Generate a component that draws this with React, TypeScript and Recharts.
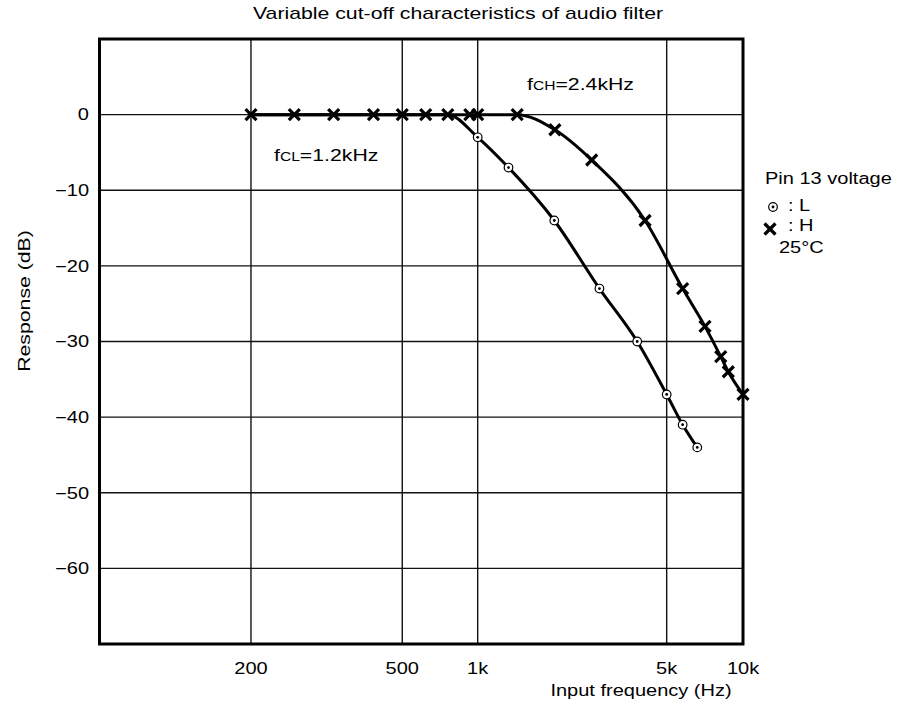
import React from "react";
import {
  LineChart,
  Line,
  XAxis,
  YAxis,
  CartesianGrid,
  ReferenceArea,
  Customized,
} from "recharts";

// frequency axis (Hz) and response axis (dB)
const FREQ_TICKS = [200, 500, 1000, 5000, 10000];
const FREQ_LABELS = ["200", "500", "1k", "5k", "10k"];
const DB_TICKS = [0, -10, -20, -30, -40, -50, -60];

// pin 13 voltage = H (cross markers), fcH = 2.4kHz
const H_FREQ = [200, 260, 330, 420, 500, 620, 760, 930, 1000, 1400, 1930, 2640, 4160, 5780, 7080, 8170, 8750, 10000];
const H_DB = [0, 0, 0, 0, 0, 0, 0, 0, 0, 0, -2, -6, -14, -23, -28, -32, -34, -37];

// pin 13 voltage = L (ring markers), fcL = 1.2kHz
const L_FREQ = [200, 260, 330, 420, 500, 620, 760, 1000, 1300, 1920, 2820, 3890, 5000, 5780, 6600];
const L_DB = [0, 0, 0, 0, 0, 0, 0, -3, -7, -14, -23, -30, -37, -41, -44];

const hData = H_FREQ.map((f, i) => ({ f, db: H_DB[i] }));
const lData = L_FREQ.map((f, i) => ({ f, db: L_DB[i] }));

const FONT = "'Liberation Sans', Arial, Helvetica, sans-serif";
// the printed lettering is noticeably wider than Arial
const STRETCH = 1.25;

// The printed frequency axis is not a clean log axis: each decade piece has its
// own length. Log-interpolate between the printed gridlines.
const AXIS_STOPS = [100, 200, 500, 1000, 5000, 10000];
const AXIS_FRAC = [0, 0.2354, 0.4705, 0.5877, 0.8814, 1];

function pieceLogScale(): any {
  let dom = [AXIS_STOPS[0], AXIS_STOPS[AXIS_STOPS.length - 1]];
  let rng = [0, 1];
  const scale: any = (v: number) => {
    let i = 0;
    while (i < AXIS_STOPS.length - 2 && v > AXIS_STOPS[i + 1]) i++;
    const a = Math.log10(AXIS_STOPS[i]);
    const b = Math.log10(AXIS_STOPS[i + 1]);
    const t = AXIS_FRAC[i] + ((AXIS_FRAC[i + 1] - AXIS_FRAC[i]) * (Math.log10(v) - a)) / (b - a);
    return rng[0] + (rng[1] - rng[0]) * t;
  };
  scale.domain = (d?: number[]) => {
    if (d === undefined) return dom;
    dom = [...d];
    return scale;
  };
  scale.range = (r?: number[]) => {
    if (r === undefined) return rng;
    rng = [...r];
    return scale;
  };
  scale.copy = () => pieceLogScale().domain(dom).range(rng);
  scale.ticks = () => FREQ_TICKS;
  return scale;
}

function Txt({ x, y, anchor = "start", size = 16, rotate = 0, children }: any) {
  return (
    <text
      transform={`translate(${x},${y}) rotate(${rotate}) scale(${STRETCH},1)`}
      textAnchor={anchor}
      dy="0.36em"
      fontSize={size}
      fontFamily={FONT}
      fill="#000"
    >
      {children}
    </text>
  );
}

function Ring({ cx, cy }: { cx: number; cy: number }) {
  return (
    <g>
      <circle cx={cx} cy={cy} r={4.3} fill="#fff" stroke="#000" strokeWidth={1.2} />
      <circle cx={cx} cy={cy} r={1.4} fill="#000" />
    </g>
  );
}

function Cross({ cx, cy }: { cx: number; cy: number }) {
  return (
    <g stroke="#000" strokeWidth={3.2}>
      <line x1={cx - 5.5} y1={cy - 5.5} x2={cx + 5.5} y2={cy + 5.5} />
      <line x1={cx - 5.5} y1={cy + 5.5} x2={cx + 5.5} y2={cy - 5.5} />
    </g>
  );
}

function XTick({ x, payload }: any) {
  const i = FREQ_TICKS.indexOf(payload.value);
  return <Txt x={x} y={668} anchor="middle">{FREQ_LABELS[i]}</Txt>;
}

function YTick({ y, payload }: any) {
  const v = payload.value;
  return (
    <Txt x={89} y={y} anchor="end">
      {v < 0 ? `\u2212${-v}` : `${v}`}
    </Txt>
  );
}

function Notes() {
  return (
    <g>
      <Txt x={458} y={13} anchor="middle" size={17}>
        Variable cut-off characteristics of audio filter
      </Txt>
      <Txt x={24} y={301} anchor="middle" rotate={-90} size={17}>
        Response (dB)
      </Txt>
      <Txt x={641} y={690} anchor="middle">Input frequency (Hz)</Txt>
      <Txt x={527} y={84} size={17}>
        f<tspan fontSize={12.5}>CH</tspan>=2.4kHz
      </Txt>
      <Txt x={274} y={155} size={17}>
        f<tspan fontSize={12.5}>CL</tspan>=1.2kHz
      </Txt>
      <Txt x={765} y={178}>Pin 13 voltage</Txt>
      <Ring cx={773} cy={207} />
      <Txt x={788} y={205}>: L</Txt>
      <Cross cx={770} cy={229} />
      <Txt x={788} y={225}>: H</Txt>
      <Txt x={779} y={247}>25°C</Txt>
    </g>
  );
}

export default function App() {
  return (
    <div style={{ position: "absolute", left: 0, top: 0, background: "#fff" }}>
      <LineChart
        width={913}
        height={706}
        margin={{ top: 39, right: 170, bottom: 0, left: 0 }}
      >
        <CartesianGrid stroke="#111" strokeWidth={1.4} />
        <XAxis
          type="number"
          dataKey="f"
          scale={pieceLogScale()}
          domain={[100, 10000]}
          ticks={FREQ_TICKS}
          tick={<XTick />}
          tickLine={false}
          axisLine={false}
          height={62}
        />
        <YAxis
          type="number"
          domain={[-70, 10]}
          ticks={DB_TICKS}
          tick={<YTick />}
          tickLine={false}
          axisLine={false}
          width={99.5}
        />
        <ReferenceArea
          x1={100}
          x2={10000}
          y1={-70}
          y2={10}
          fill="none"
          stroke="#000"
          strokeWidth={3}
          fillOpacity={0}
        />
        <Line
          data={lData}
          dataKey="db"
          type="monotone"
          stroke="#000"
          strokeWidth={3}
          isAnimationActive={false}
          dot={(p: any) =>
            p.payload.db === 0 ? (
              <g key={`l${p.index}`} />
            ) : (
              <Ring key={`l${p.index}`} cx={p.cx} cy={p.cy} />
            )
          }
        />
        <Line
          data={hData}
          dataKey="db"
          type="monotone"
          stroke="#000"
          strokeWidth={3}
          isAnimationActive={false}
          dot={(p: any) => <Cross key={`h${p.index}`} cx={p.cx} cy={p.cy} />}
        />
        <Customized component={Notes} />
      </LineChart>
    </div>
  );
}
